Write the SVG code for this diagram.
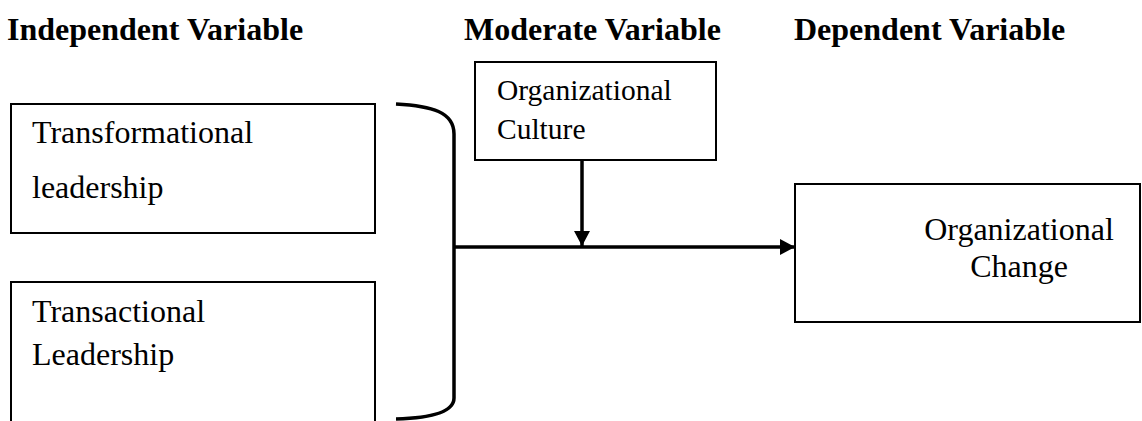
<svg xmlns="http://www.w3.org/2000/svg" width="1142" height="421" viewBox="0 0 1142 421">
<defs>
<style>
.box{fill:#fff;stroke:#000;stroke-width:2}
.t{font-family:"Liberation Serif","Times New Roman",serif;font-size:32px;fill:#000}
.h{font-family:"Liberation Serif","Times New Roman",serif;font-size:32px;font-weight:bold;fill:#000}
.ln{fill:none;stroke:#000;stroke-width:3.5}
</style>
<marker id="ah" markerWidth="16" markerHeight="16" refX="15" refY="8" orient="auto" markerUnits="userSpaceOnUse">
<path d="M0,0 L15,8 L0,16 Z" fill="#000"/>
</marker>
</defs>
<rect width="1142" height="421" fill="#fff"/>
<g id="headers">
<text class="h" x="7" y="40">Independent Variable</text>
<text class="h" x="464" y="40">Moderate Variable</text>
<text class="h" x="794" y="40">Dependent Variable</text>
</g>
<g id="transformational">
<rect class="box" x="11" y="104" width="364" height="129"/>
<text class="t" x="32" y="143">Transformational</text>
<text class="t" x="32" y="198">leadership</text>
</g>
<g id="transactional">
<rect class="box" x="11" y="282" width="364" height="150"/>
<text class="t" x="32" y="322">Transactional</text>
<text class="t" x="32" y="365">Leadership</text>
</g>
<g id="culture">
<rect class="box" x="475" y="62" width="241" height="98"/>
<text class="t" x="497" y="100" style="font-size:29.5px">Organizational</text>
<text class="t" x="497" y="139" style="font-size:29.5px">Culture</text>
</g>
<g id="change">
<rect class="box" x="795" y="184" width="345" height="138"/>
<text class="t" x="1019" y="240" text-anchor="middle">Organizational</text>
<text class="t" x="1019" y="277" text-anchor="middle">Change</text>
</g>
<g id="connectors">
<path class="ln" d="M396,104 C432,106 454,112 454,134 L454,398 C454,412 432,418 396,419"/>
<line class="ln" x1="454" y1="247" x2="795" y2="247" marker-end="url(#ah)"/>
<line class="ln" x1="582" y1="160" x2="582" y2="246" marker-end="url(#ah)"/>
</g>
</svg>
